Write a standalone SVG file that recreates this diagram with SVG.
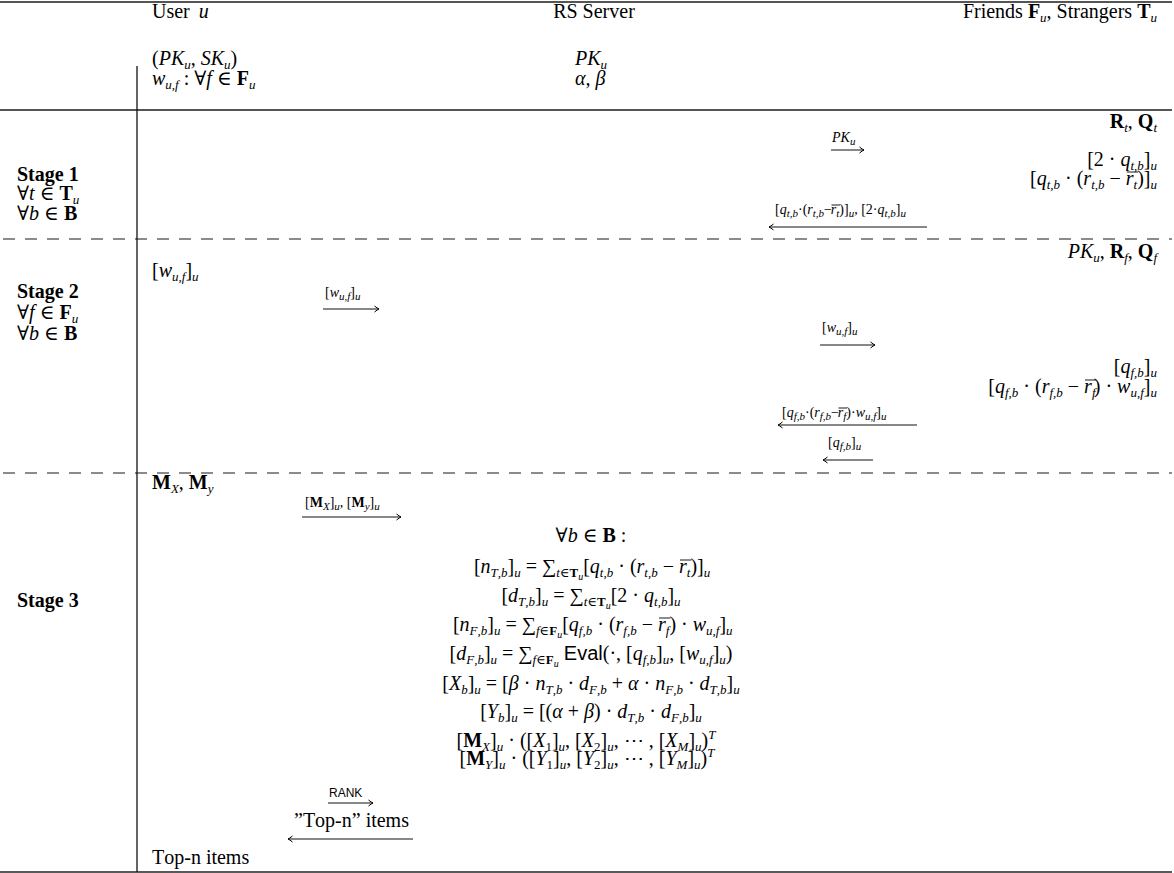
<svg xmlns="http://www.w3.org/2000/svg" width="1174" height="873" viewBox="0 0 1174 873">
<defs>
<style>
.t{font-family:"Liberation Serif","DejaVu Serif",serif;font-size:20px;fill:#000;font-kerning:none}
.s{font-size:14px}
.i{font-style:italic}
.b{font-weight:bold}
.sf{font-family:"Liberation Sans",Arial,sans-serif;font-style:normal}
.d{font-size:13px;baseline-shift:-4px}
.dd{font-size:10px;baseline-shift:-6.5px}
.up{font-size:13px;baseline-shift:8px}
.sd{font-size:11px;baseline-shift:-3px}
.ov{stroke:#000;stroke-width:0.9}
.rule{stroke:#555;stroke-width:2;fill:none}
.dash{stroke:#666;stroke-width:1.5;stroke-dasharray:12 10;fill:none}
.arr{stroke:#111;stroke-width:1.2;fill:none;marker-end:url(#ah)}
</style>
<marker id="ah" markerUnits="userSpaceOnUse" markerWidth="10" markerHeight="10" viewBox="-6 -5 8 10" refX="0" refY="0" orient="auto">
<path d="M-4.5,-3 Q-1.5,-0.6 0,0 Q-1.5,0.6 -4.5,3" stroke="#000" stroke-width="1" fill="none"/>
</marker>
</defs>
<rect x="0" y="0" width="1174" height="873" fill="#fff"/>
<g id="frame">
<line class="rule" x1="0" y1="2" x2="1172" y2="2"/>
<line class="rule" x1="0" y1="110" x2="1172" y2="110"/>
<line class="dash" x1="3" y1="239" x2="1172" y2="239"/>
<line class="dash" x1="3" y1="473" x2="1172" y2="473"/>
<line x1="0" y1="872" x2="1172" y2="872" stroke="#222" stroke-width="1.5"/>
<line x1="137" y1="66" x2="137" y2="872" stroke="#111" stroke-width="1.3"/>
</g>
<g id="header">
<text class="t" x="152" y="18">User<tspan class="i" dx="9">u</tspan></text>
<text class="t" x="594" y="18" text-anchor="middle">RS Server</text>
<text class="t" x="1157" y="18" text-anchor="end">Friends <tspan class="b">F</tspan><tspan class="d i">u</tspan>, Strangers <tspan class="b">T</tspan><tspan class="d i">u</tspan></text>
</g>
<g id="user-init">
<text class="t" x="152" y="65">(<tspan class="i">PK</tspan><tspan class="d i">u</tspan>, <tspan class="i">SK</tspan><tspan class="d i">u</tspan>)</text>
<text class="t" x="152" y="85"><tspan class="i">w</tspan><tspan class="d i">u,f</tspan> : ∀<tspan class="i">f</tspan> ∈ <tspan class="b">F</tspan><tspan class="d i">u</tspan></text>
</g>
<g id="server-init">
<text class="t" x="575" y="65"><tspan class="i">PK</tspan><tspan class="d i">u</tspan></text>
<text class="t i" x="575" y="85">α, β</text>
</g>
<g id="stage1-label">
<text class="t b" x="17" y="181">Stage 1</text>
<text class="t" x="17" y="200">∀<tspan class="i">t</tspan> ∈ <tspan class="b">T</tspan><tspan class="d i">u</tspan></text>
<text class="t" x="17" y="220">∀<tspan class="i">b</tspan> ∈ <tspan class="b">B</tspan></text>
</g>
<g id="stage1-strangers">
<text class="t" x="1157" y="128" text-anchor="end"><tspan class="b">R</tspan><tspan class="d i">t</tspan>, <tspan class="b">Q</tspan><tspan class="d i">t</tspan></text>
<text class="t" x="1157" y="166" text-anchor="end">[2 · <tspan class="i">q</tspan><tspan class="d i">t,b</tspan>]<tspan class="d i">u</tspan></text>
<text class="t" x="1120.8" y="185" text-anchor="end">[<tspan class="i">q</tspan><tspan class="d i">t,b</tspan> · (<tspan class="i">r</tspan><tspan class="d i">t,b</tspan> −</text>
<text class="t" x="1125.8" y="185"><tspan class="i">r</tspan><tspan class="d i">t</tspan></text>
<line class="ov" x1="1126.8" y1="172" x2="1138.2" y2="172"/>
<text class="t" x="1157" y="185" text-anchor="end">)]<tspan class="d i">u</tspan></text>
</g>
<g id="stage2-label">
<text class="t b" x="17" y="298">Stage 2</text>
<text class="t" x="17" y="319">∀<tspan class="i">f</tspan> ∈ <tspan class="b">F</tspan><tspan class="d i">u</tspan></text>
<text class="t" x="17" y="340">∀<tspan class="i">b</tspan> ∈ <tspan class="b">B</tspan></text>
</g>
<g id="stage2-user">
<text class="t" x="152" y="277">[<tspan class="i">w</tspan><tspan class="d i">u,f</tspan>]<tspan class="d i">u</tspan></text>
</g>
<g id="stage2-friends">
<text class="t" x="1157" y="258" text-anchor="end"><tspan class="i">PK</tspan><tspan class="d i">u</tspan>, <tspan class="b">R</tspan><tspan class="d i">f</tspan>, <tspan class="b">Q</tspan><tspan class="d i">f</tspan></text>
<text class="t" x="1157" y="373" text-anchor="end">[<tspan class="i">q</tspan><tspan class="d i">f,b</tspan>]<tspan class="d i">u</tspan></text>
<text class="t" x="1079.1" y="393" text-anchor="end">[<tspan class="i">q</tspan><tspan class="d i">f,b</tspan> · (<tspan class="i">r</tspan><tspan class="d i">f,b</tspan> −</text>
<text class="t" x="1084.1" y="393"><tspan class="i">r</tspan><tspan class="d i">f</tspan></text>
<line class="ov" x1="1085" y1="380" x2="1096.5" y2="380"/>
<text class="t" x="1157" y="393" text-anchor="end">) · <tspan class="i">w</tspan><tspan class="d i">u,f</tspan>]<tspan class="d i">u</tspan></text>
</g>
<g id="stage3-label">
<text class="t b" x="17" y="607">Stage 3</text>
</g>
<g id="stage3-user">
<text class="t" x="152" y="489"><tspan class="b">M</tspan><tspan class="d i">X</tspan>, <tspan class="b">M</tspan><tspan class="d i">y</tspan></text>
<text class="t" x="294" y="827">”Top-n” items</text>
<text class="t" x="152" y="864">Top-n items</text>
</g>
<g id="stage3-server">
<text class="t" x="591" y="542" text-anchor="middle">∀<tspan class="i">b</tspan> ∈ <tspan class="b">B</tspan> :</text>
<text class="t" x="674" y="573" text-anchor="end">[<tspan class="i">n</tspan><tspan class="d i">T,b</tspan>]<tspan class="d i">u</tspan> = ∑<tspan class="d"><tspan class="i">t</tspan>∈</tspan><tspan class="d b">T</tspan><tspan class="dd i">u</tspan>[<tspan class="i">q</tspan><tspan class="d i">t,b</tspan> · (<tspan class="i">r</tspan><tspan class="d i">t,b</tspan> −</text>
<text class="t" x="679" y="573"><tspan class="i">r</tspan><tspan class="d i">t</tspan></text>
<line class="ov" x1="680" y1="560" x2="691.4" y2="560"/>
<text class="t" x="690.4" y="573">)]<tspan class="d i">u</tspan></text>
<text class="t" x="591" y="602" text-anchor="middle">[<tspan class="i">d</tspan><tspan class="d i">T,b</tspan>]<tspan class="d i">u</tspan> = ∑<tspan class="d"><tspan class="i">t</tspan>∈</tspan><tspan class="d b">T</tspan><tspan class="dd i">u</tspan>[2 · <tspan class="i">q</tspan><tspan class="d i">t,b</tspan>]<tspan class="d i">u</tspan></text>
<text class="t" x="653" y="631" text-anchor="end">[<tspan class="i">n</tspan><tspan class="d i">F,b</tspan>]<tspan class="d i">u</tspan> = ∑<tspan class="d"><tspan class="i">f</tspan>∈</tspan><tspan class="d b">F</tspan><tspan class="dd i">u</tspan>[<tspan class="i">q</tspan><tspan class="d i">f,b</tspan> · (<tspan class="i">r</tspan><tspan class="d i">f,b</tspan> −</text>
<text class="t" x="658" y="631"><tspan class="i">r</tspan><tspan class="d i">f</tspan></text>
<line class="ov" x1="659" y1="618" x2="670.4" y2="618"/>
<text class="t" x="669.4" y="631">) · <tspan class="i">w</tspan><tspan class="d i">u,f</tspan>]<tspan class="d i">u</tspan></text>
<text class="t" x="591" y="660" text-anchor="middle">[<tspan class="i">d</tspan><tspan class="d i">F,b</tspan>]<tspan class="d i">u</tspan> = ∑<tspan class="d"><tspan class="i">f</tspan>∈</tspan><tspan class="d b">F</tspan><tspan class="dd i">u</tspan> <tspan class="sf">Eval</tspan>(·, [<tspan class="i">q</tspan><tspan class="d i">f,b</tspan>]<tspan class="d i">u</tspan>, [<tspan class="i">w</tspan><tspan class="d i">u,f</tspan>]<tspan class="d i">u</tspan>)</text>
<text class="t" x="591" y="690" text-anchor="middle">[<tspan class="i">X</tspan><tspan class="d i">b</tspan>]<tspan class="d i">u</tspan> = [<tspan class="i">β</tspan> · <tspan class="i">n</tspan><tspan class="d i">T,b</tspan> · <tspan class="i">d</tspan><tspan class="d i">F,b</tspan> + <tspan class="i">α</tspan> · <tspan class="i">n</tspan><tspan class="d i">F,b</tspan> · <tspan class="i">d</tspan><tspan class="d i">T,b</tspan>]<tspan class="d i">u</tspan></text>
<text class="t" x="591" y="718" text-anchor="middle">[<tspan class="i">Y</tspan><tspan class="d i">b</tspan>]<tspan class="d i">u</tspan> = [(<tspan class="i">α</tspan> + <tspan class="i">β</tspan>) · <tspan class="i">d</tspan><tspan class="d i">T,b</tspan> · <tspan class="i">d</tspan><tspan class="d i">F,b</tspan>]<tspan class="d i">u</tspan></text>
<text class="t" x="586" y="747" text-anchor="middle">[<tspan class="b">M</tspan><tspan class="d i">X</tspan>]<tspan class="d i">u</tspan> · ([<tspan class="i">X</tspan><tspan class="d">1</tspan>]<tspan class="d i">u</tspan>, [<tspan class="i">X</tspan><tspan class="d">2</tspan>]<tspan class="d i">u</tspan>, ⋯ , [<tspan class="i">X</tspan><tspan class="d i">M</tspan>]<tspan class="d i">u</tspan>)<tspan class="up i">T</tspan></text>
<text class="t" x="587" y="765" text-anchor="middle">[<tspan class="b">M</tspan><tspan class="d i">Y</tspan>]<tspan class="d i">u</tspan> · ([<tspan class="i">Y</tspan><tspan class="d">1</tspan>]<tspan class="d i">u</tspan>, [<tspan class="i">Y</tspan><tspan class="d">2</tspan>]<tspan class="d i">u</tspan>, ⋯ , [<tspan class="i">Y</tspan><tspan class="d i">M</tspan>]<tspan class="d i">u</tspan>)<tspan class="up i">T</tspan></text>
</g>
<g id="connectors">
<line class="arr" x1="831" y1="150" x2="864" y2="150"/>
<text class="t s" x="832" y="142"><tspan class="i">PK</tspan><tspan class="sd i">u</tspan></text>
<line class="arr" x1="927" y1="227" x2="769" y2="227"/>
<text class="t s" x="775" y="214">[<tspan class="i">q</tspan><tspan class="sd i">t,b</tspan>·(<tspan class="i">r</tspan><tspan class="sd i">t,b</tspan>−</text>
<text class="t s" x="830.8" y="214"><tspan class="i">r</tspan><tspan class="sd i">t</tspan></text>
<line class="ov" x1="831.5" y1="205" x2="840" y2="205" stroke-width="0.8"/>
<text class="t s" x="839.3" y="214">)]<tspan class="sd i">u</tspan>, [2·<tspan class="i">q</tspan><tspan class="sd i">t,b</tspan>]<tspan class="sd i">u</tspan></text>
<line class="arr" x1="323" y1="309" x2="379" y2="309"/>
<text class="t s" x="325" y="297">[<tspan class="i">w</tspan><tspan class="sd i">u,f</tspan>]<tspan class="sd i">u</tspan></text>
<line class="arr" x1="820" y1="345" x2="875" y2="345"/>
<text class="t s" x="822" y="332">[<tspan class="i">w</tspan><tspan class="sd i">u,f</tspan>]<tspan class="sd i">u</tspan></text>
<line class="arr" x1="917" y1="425" x2="778" y2="425"/>
<text class="t s" x="782" y="417">[<tspan class="i">q</tspan><tspan class="sd i">f,b</tspan>·(<tspan class="i">r</tspan><tspan class="sd i">f,b</tspan>−</text>
<text class="t s" x="837.8" y="417"><tspan class="i">r</tspan><tspan class="sd i">f</tspan></text>
<line class="ov" x1="838.5" y1="408" x2="847" y2="408" stroke-width="0.8"/>
<text class="t s" x="846.3" y="417">)·<tspan class="i">w</tspan><tspan class="sd i">u,f</tspan>]<tspan class="sd i">u</tspan></text>
<line class="arr" x1="873" y1="460" x2="823" y2="460"/>
<text class="t s" x="828" y="447">[<tspan class="i">q</tspan><tspan class="sd i">f,b</tspan>]<tspan class="sd i">u</tspan></text>
<line class="arr" x1="302" y1="517" x2="401" y2="517"/>
<text class="t s" x="305" y="507">[<tspan class="b">M</tspan><tspan class="sd i">X</tspan>]<tspan class="sd i">u</tspan>, [<tspan class="b">M</tspan><tspan class="sd i">y</tspan>]<tspan class="sd i">u</tspan></text>
<line class="arr" x1="328" y1="803" x2="373" y2="803"/>
<text class="t s sf" x="329" y="797" style="font-size:12px">RANK</text>
<line class="arr" x1="413" y1="839" x2="288" y2="839"/>
</g>
</svg>
